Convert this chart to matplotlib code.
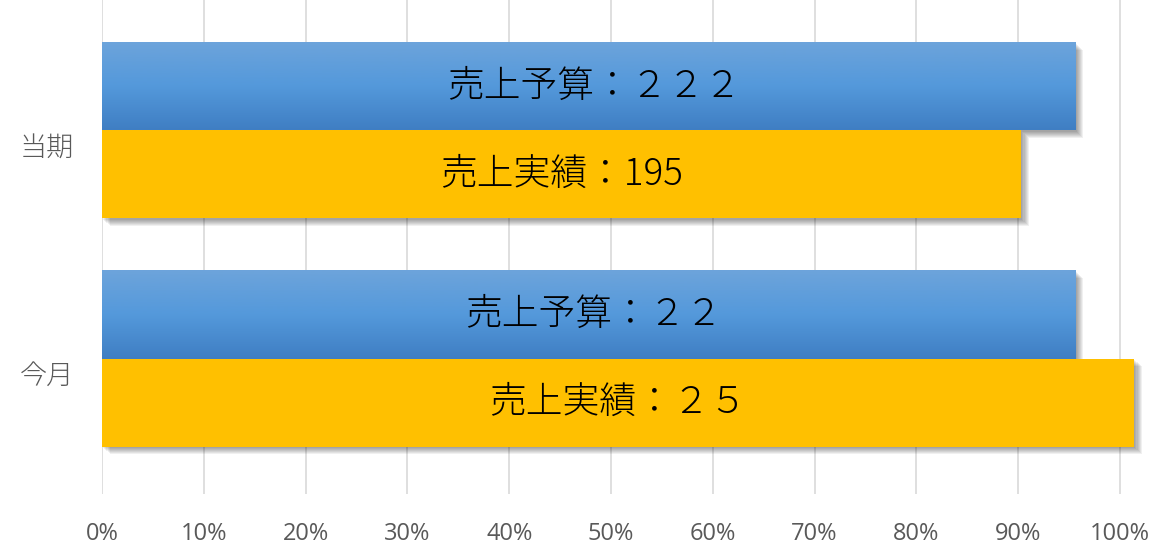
import matplotlib
matplotlib.use("Agg")
import matplotlib.pyplot as plt
import matplotlib.transforms as mtransforms
from matplotlib.patches import Rectangle
from matplotlib.colors import LinearSegmentedColormap
import numpy as np

# データ（当期が上、今月が下）
categories = ["当期", "今月"]
budget_pct = [0.9565, 0.9565]
actual_pct = [0.903, 1.014]
budget_labels = ["売上予算：２２２", "売上予算：２２"]
actual_labels = ["売上実績：195", "売上実績：２５"]
x_ticks = [0, 0.1, 0.2, 0.3, 0.4, 0.5, 0.6, 0.7, 0.8, 0.9, 1.0]

jp_font = ["Noto Sans CJK JP", "DejaVu Sans"]
gray_text = "#595959"
gold = "#FFC000"
blue_grad = LinearSegmentedColormap.from_list(
    "blue_grad", ["#6DA4DB", "#5499DB", "#3F7EC3"])

fig = plt.figure(figsize=(11.75, 5.52), dpi=100)
# 0% が x=102px、100% が x=1120px になるように
ax = fig.add_axes([102 / 1175, (552 - 494) / 552, 1018 * 1.05 / 1175, 494 / 552])

bar_h = 0.386
y = np.arange(len(categories))
budget_bars = ax.barh(y - bar_h / 2, budget_pct, height=bar_h, color="none", zorder=3)
actual_bars = ax.barh(y + bar_h / 2, actual_pct, height=bar_h, color=gold, zorder=3)

# グラデーション（予算バー）
grad = np.linspace(0, 1, 256).reshape(-1, 1)
for bar in budget_bars:
    x0, y0, w, h = bar.get_x(), bar.get_y(), bar.get_width(), bar.get_height()
    im = ax.imshow(grad, cmap=blue_grad, aspect="auto", origin="upper",
                   extent=(x0, x0 + w, y0 + h, y0), zorder=3, interpolation="bilinear")
    im.set_clip_path(bar)

# 影（右下にぼかし風）
for bar in list(budget_bars) + list(actual_bars):
    x0, y0, w, h = bar.get_x(), bar.get_y(), bar.get_width(), bar.get_height()
    for k in range(1, 8):
        off = mtransforms.ScaledTranslation(k * 0.011, -k * 0.011, fig.dpi_scale_trans)
        sh = Rectangle((x0, y0), w, h, facecolor="black", edgecolor="none",
                       alpha=0.06, transform=ax.transData + off, zorder=2)
        ax.add_patch(sh)

# バー内のラベル
for bar, txt in zip(budget_bars, budget_labels):
    ax.text(bar.get_width() / 2 + 0.005, bar.get_y() + bar.get_height() / 2, txt,
            ha="center", va="center", fontsize=26.5, family=jp_font,
            fontweight="light", color="black", zorder=5)
for bar, txt in zip(actual_bars, actual_labels):
    ax.text(bar.get_width() / 2, bar.get_y() + bar.get_height() / 2, txt,
            ha="center", va="center", fontsize=26.5, family=jp_font,
            fontweight="light", color="black", zorder=5)

ax.set_xlim(0, 1.05)
ax.set_ylim(1.594, -0.572)

ax.set_xticks(x_ticks)
ax.set_xticklabels([f"{int(round(t * 100))}%" for t in x_ticks],
                   fontsize=17, family=["Open Sans", "DejaVu Sans"], color=gray_text)
ax.set_yticks(y)
ax.set_yticklabels(categories, fontsize=19.5, family=jp_font,
                   fontweight="light", color=gray_text)
ax.tick_params(axis="x", length=0, pad=20)
ax.tick_params(axis="y", length=0, pad=20)

# カテゴリラベルを少し下へ
for lab in ax.get_yticklabels():
    lab.set_transform(lab.get_transform() +
                      mtransforms.ScaledTranslation(0, -0.14, fig.dpi_scale_trans))

ax.grid(axis="x", color="#D9D9D9", linewidth=1.2)
ax.grid(axis="y", visible=False)
ax.set_axisbelow(True)
for s in ax.spines.values():
    s.set_visible(False)

fig.savefig("out.png", dpi=100)
